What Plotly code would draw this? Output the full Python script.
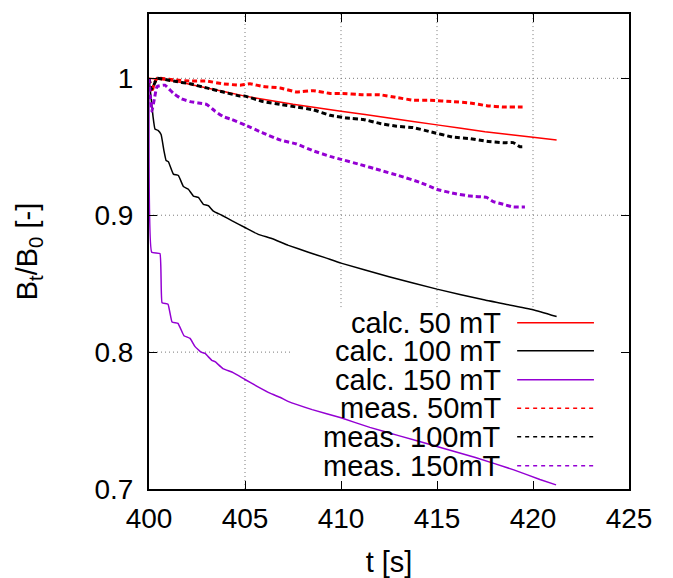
import plotly.graph_objects as go

# ---------------- data ----------------
calc50_t = [400.0, 401.25, 403.02, 405.0, 407.5, 410.0, 412.5, 415.0, 417.5, 420.0, 421.23]
calc50_v = [1.000, 0.998, 0.993, 0.987, 0.981, 0.976, 0.971, 0.966, 0.961, 0.957, 0.955]

calc100_t = [400.0, 400.10, 400.21, 400.31, 400.47, 400.63, 400.78, 400.89, 401.01, 401.27,
             401.53, 401.79, 402.05, 402.31, 402.57, 402.83, 403.09, 403.35, 403.79, 404.31,
             405.0, 405.69, 406.39, 407.26, 408.30, 409.17, 410.0, 412.5, 415.0, 417.5,
             420.0, 421.23]
calc100_v = [1.000, 0.987, 0.972, 0.963, 0.962, 0.959, 0.947, 0.940, 0.939, 0.930,
             0.929, 0.921, 0.919, 0.914, 0.913, 0.908, 0.907, 0.903, 0.900, 0.896,
             0.891, 0.886, 0.883, 0.878, 0.873, 0.869, 0.865, 0.855, 0.846, 0.838,
             0.831, 0.826]

calc150_t = [400.0, 400.14, 400.57, 400.68, 400.99, 401.20, 401.51, 401.82, 402.14, 402.40,
             402.71, 402.92, 403.27, 403.44, 403.85, 404.38, 405.0, 405.63, 406.30, 406.82,
             407.24, 408.5, 410.0, 411.5, 413.0, 415.0, 417.0, 419.0, 420.36, 421.2]
calc150_v = [1.000, 0.873, 0.872, 0.836, 0.835, 0.822, 0.821, 0.812, 0.810, 0.804,
             0.800, 0.799, 0.794, 0.793, 0.788, 0.785, 0.780, 0.775, 0.770, 0.767,
             0.764, 0.758, 0.752, 0.745, 0.739, 0.731, 0.723, 0.714, 0.707, 0.703]

meas50_t = [400.0, 400.10, 400.16, 400.26, 400.42, 400.57, 401.27, 402.14, 403.0, 403.85,
            404.74, 405.26, 405.95, 406.82, 407.69, 408.56, 409.43, 409.95, 411.16, 412.03,
            412.90, 413.77, 414.64, 415.85, 416.72, 417.59, 418.45, 419.32, 419.58]
meas50_v = [1.000, 0.994, 0.990, 0.996, 1.000, 1.000, 0.999, 0.998, 0.998, 0.996,
            0.995, 0.996, 0.994, 0.993, 0.990, 0.991, 0.989, 0.989, 0.988, 0.988,
            0.986, 0.984, 0.984, 0.983, 0.982, 0.980, 0.979, 0.979, 0.979]

meas100_t = [400.0, 400.12, 400.25, 400.42, 401.27, 402.14, 403.0, 403.87, 404.74, 405.0,
             405.95, 406.82, 407.69, 408.56, 409.43, 410.30, 411.16, 412.03, 412.90, 413.77,
             414.64, 415.85, 416.72, 417.59, 418.45, 418.97, 419.32, 419.49]
meas100_v = [1.000, 0.992, 0.995, 1.000, 0.998, 0.996, 0.993, 0.990, 0.987, 0.987,
             0.983, 0.981, 0.979, 0.977, 0.973, 0.971, 0.970, 0.967, 0.965, 0.964,
             0.961, 0.957, 0.956, 0.954, 0.953, 0.953, 0.950, 0.950]

meas150_t = [400.0, 400.08, 400.15, 400.28, 400.42, 400.83, 401.27, 401.70, 402.14, 402.57,
             403.0, 403.44, 403.87, 404.31, 405.0, 405.95, 406.82, 407.69, 408.56, 409.43,
             409.95, 411.0, 412.0, 413.0, 414.11, 414.98, 415.85, 416.72, 417.59, 417.93,
             418.45, 418.97, 419.58]
meas150_v = [1.000, 0.985, 0.976, 0.985, 0.994, 0.995, 0.989, 0.985, 0.983, 0.982,
             0.981, 0.976, 0.972, 0.970, 0.966, 0.960, 0.955, 0.952, 0.947, 0.943,
             0.941, 0.937, 0.933, 0.929, 0.924, 0.919, 0.916, 0.914, 0.913, 0.910,
             0.908, 0.906, 0.906]

series_names = ["calc. 50 mT", "calc. 100 mT", "calc. 150 mT",
                "meas. 50mT", "meas. 100mT", "meas. 150mT"]
x_ticks = [400, 405, 410, 415, 420, 425]
y_ticks = [0.7, 0.8, 0.9, 1.0]
y_tick_labels = ["0.7", "0.8", "0.9", "1"]
X_RANGE = [400, 425]
Y_RANGE = [0.7, 1.047]

# ---------------- styling ----------------
RED = "#ff0000"
BLACK = "#000000"
VIOLET = "#9400d3"
FONT = "Liberation Sans"
FS = 29
FS_TICK = 28
GRID = dict(color="#7a7a7a", width=1, dash="1px,3px")

series = [
    (calc50_t, calc50_v, RED, "solid", 1.5),
    (calc100_t, calc100_v, BLACK, "solid", 1.5),
    (calc150_t, calc150_v, VIOLET, "solid", 1.5),
    (meas50_t, meas50_v, RED, "5px,3px", 3),
    (meas100_t, meas100_v, BLACK, "5px,3px", 3),
    (meas150_t, meas150_v, VIOLET, "5px,3px", 3),
]

fig = go.Figure()
for (t, v, c, d, w), name in zip(series, series_names):
    fig.add_trace(go.Scatter(x=t, y=v, mode="lines", name=name,
                             line=dict(color=c, dash=d, width=w, shape="spline", smoothing=0.3),
                             showlegend=False))

# key box region (opaque in the reference: the grid is not drawn there)
KEY_X0 = X_RANGE[0] + 0.298 * (X_RANGE[1] - X_RANGE[0])
KEY_Y1 = Y_RANGE[0] + 0.383 * (Y_RANGE[1] - Y_RANGE[0])

# grid lines as shapes beneath the data, clipped around the key box
for xv in x_ticks[1:-1]:
    y_start = KEY_Y1 if xv > KEY_X0 else Y_RANGE[0]
    fig.add_shape(type="line", xref="x", yref="y", x0=xv, x1=xv, y0=y_start, y1=Y_RANGE[1],
                  line=GRID, layer="below")
for yv in y_ticks[1:]:
    x_end = KEY_X0 if yv < KEY_Y1 else X_RANGE[1]
    fig.add_shape(type="line", xref="x", yref="y", x0=X_RANGE[0], x1=x_end, y0=yv, y1=yv,
                  line=GRID, layer="below")

# manual key: right-aligned text followed by the line sample
key_rows = [0.350, 0.291, 0.230, 0.170, 0.110, 0.049]
legend_dash = ["solid", "solid", "solid", "4px,4px", "4px,4px", "4px,4px"]
for (t, v, c, d, w), name, yy, ld in zip(series, series_names, key_rows, legend_dash):
    fig.add_annotation(xref="x domain", yref="y domain", x=0.738, y=yy,
                       text=name, showarrow=False, xanchor="right", yanchor="middle",
                       font=dict(family=FONT, size=FS, color="black"))
    fig.add_shape(type="line", xref="x domain", yref="y domain",
                  x0=0.767, x1=0.927, y0=yy, y1=yy,
                  line=dict(color=c, width=1.5, dash=ld), layer="above")

axis_common = dict(
    showline=True, linecolor="black", linewidth=2, mirror="allticks",
    ticks="inside", ticklen=8, tickwidth=1, tickcolor="black",
    showgrid=False, zeroline=False,
    tickfont=dict(family=FONT, size=FS_TICK, color="black"),
)

fig.update_xaxes(range=X_RANGE, tickvals=x_ticks, ticktext=[str(v) for v in x_ticks],
                 title=dict(text="t [s]", font=dict(family=FONT, size=FS, color="black"), standoff=20),
                 ticklabelstandoff=3, **axis_common)
fig.update_yaxes(range=Y_RANGE, tickvals=y_ticks, ticktext=y_tick_labels,
                 title=dict(text="B<sub>t</sub>/B<sub>0</sub> [-]",
                            font=dict(family=FONT, size=FS, color="black"), standoff=48),
                 ticklabelstandoff=8, **axis_common)

fig.update_layout(
    width=665, height=570,
    margin=dict(l=141, r=44, t=4, b=88),
    paper_bgcolor="white", plot_bgcolor="white",
    showlegend=False,
    font=dict(family=FONT, size=FS, color="black"),
)

fig.write_html("out.html")
